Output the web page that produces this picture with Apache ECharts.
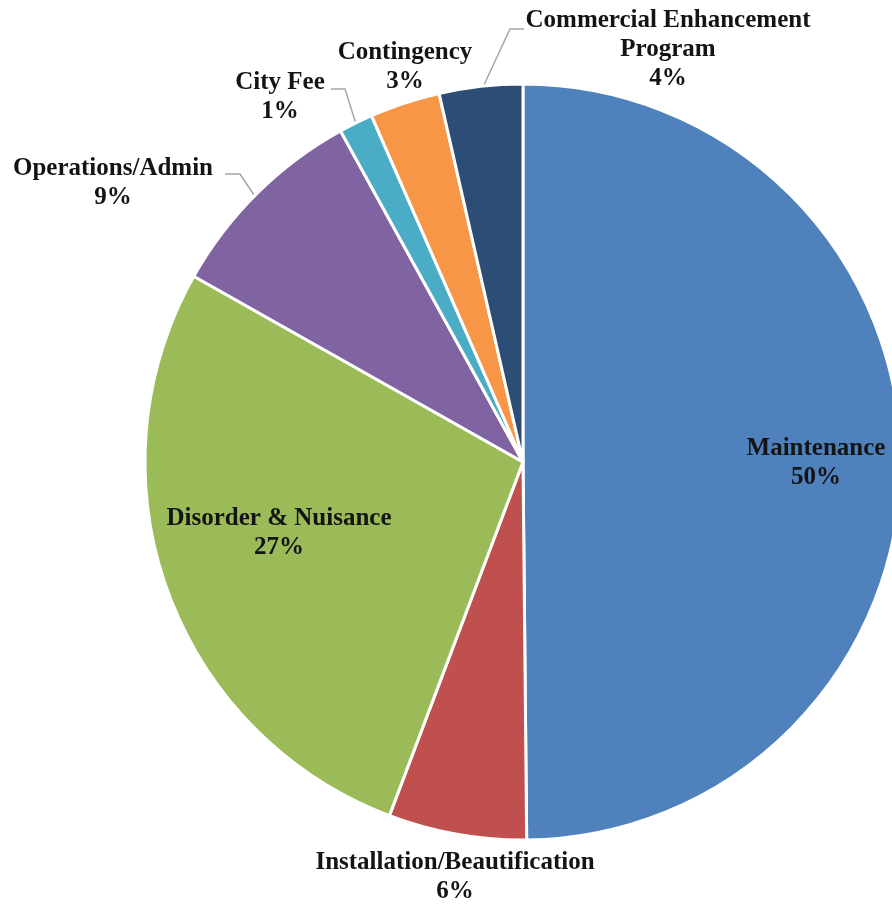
<!DOCTYPE html>
<html>
<head>
<meta charset="utf-8">
<script src="https://cdn.jsdelivr.net/npm/echarts@6/dist/echarts.min.js"></script>
<style>
html,body{margin:0;padding:0;background:#fff;}
#chart{width:892px;height:905px;}
</style>
</head>
<body>
<div id="chart"></div>
<script>
// Data (percent of budget, clockwise from 12 o'clock)
var categories = [
  'Maintenance',
  'Installation/Beautification',
  'Disorder & Nuisance',
  'Operations/Admin',
  'City Fee',
  'Contingency',
  'Commercial Enhancement\nProgram'
];
var values = [49.8, 5.9, 27.4, 8.8, 1.45, 3.0, 3.56];
var colors = ['#4F81BD', '#C0504D', '#9BBB59', '#8064A2', '#4BACC6', '#F79646', '#2C4D75'];

// Label placement (centre of label block) and leader lines
var labelCenters = [
  [816, 463], [455, 877], [279, 533], [113, 183], [280, 97], [405, 67], [668, 50]
];
var leaderLines = [
  null, null, null,
  [[254, 195], [240, 174], [225, 174]],
  [[356, 124], [345, 89], [331, 89]],
  null,
  [[483, 87], [510, 29], [524, 29]]
];

var chart = echarts.init(document.getElementById('chart'));
var data = categories.map(function (c, i) {
  return {
    name: c,
    value: values[i],
    itemStyle: { color: colors[i] },
    labelLine: { show: !!leaderLines[i] }
  };
});

chart.setOption({
  animation: false,
  series: [{
    type: 'pie',
    center: [523, 462],
    radius: [0, 378],
    startAngle: 90,
    clockwise: true,
    avoidLabelOverlap: false,
    data: data,
    itemStyle: { borderColor: '#ffffff', borderWidth: 3 },
    label: {
      show: true,
      position: 'outside',
      formatter: function (p) { return p.name + '\n' + Math.round(p.percent) + '%'; },
      fontFamily: 'Liberation Serif',
      fontWeight: 'bold',
      fontSize: 25,
      lineHeight: 29,
      color: '#141414',
      align: 'center'
    },
    labelLine: {
      show: true,
      lineStyle: { color: '#A6A6A6', width: 1.5 }
    },
    labelLayout: function (params) {
      var i = params.dataIndex;
      var r = {
        x: labelCenters[i][0],
        y: labelCenters[i][1],
        align: 'center',
        verticalAlign: 'middle'
      };
      if (leaderLines[i]) r.labelLinePoints = leaderLines[i];
      return r;
    }
  }]
});
</script>
</body>
</html>
